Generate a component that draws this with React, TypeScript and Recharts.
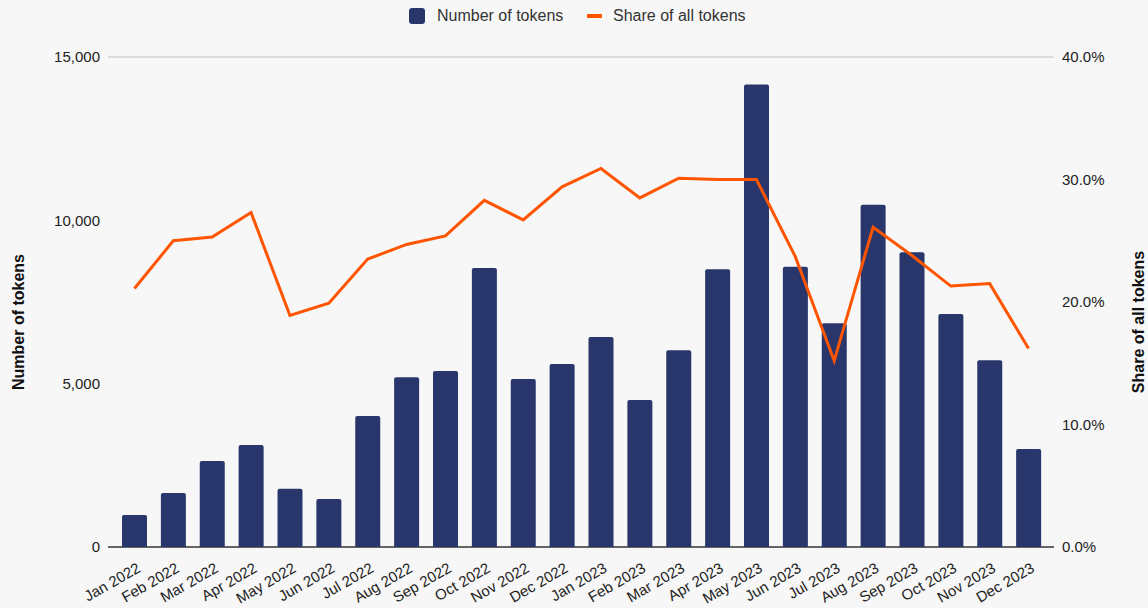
import React from 'react';
import {
  ComposedChart,
  Bar,
  Line,
  XAxis,
  YAxis,
  CartesianGrid,
  Label,
} from 'recharts';

// Monthly token counts and their share of all tokens, Jan 2022 – Dec 2023
const months = [
  'Jan 2022', 'Feb 2022', 'Mar 2022', 'Apr 2022', 'May 2022', 'Jun 2022',
  'Jul 2022', 'Aug 2022', 'Sep 2022', 'Oct 2022', 'Nov 2022', 'Dec 2022',
  'Jan 2023', 'Feb 2023', 'Mar 2023', 'Apr 2023', 'May 2023', 'Jun 2023',
  'Jul 2023', 'Aug 2023', 'Sep 2023', 'Oct 2023', 'Nov 2023', 'Dec 2023',
];

const tokenCounts = [
  980, 1650, 2630, 3120, 1780, 1470,
  4010, 5200, 5390, 8540, 5140, 5600,
  6430, 4500, 6020, 8500, 14160, 8580,
  6850, 10480, 9020, 7130, 5720, 3000,
];

const tokenShare = [
  21.1, 25.0, 25.3, 27.3, 18.9, 19.9,
  23.5, 24.7, 25.4, 28.3, 26.7, 29.4,
  30.9, 28.5, 30.1, 30.0, 30.0, 23.7,
  15.2, 26.1, 23.8, 21.3, 21.5, 16.2,
];

const leftTicks = [0, 5000, 10000, 15000];
const rightTicks = [0, 10, 20, 30, 40];

const data = months.map((month, i) => ({
  month,
  tokens: tokenCounts[i],
  share: tokenShare[i],
}));

const NAVY = '#28366b';
const ORANGE = '#ff5500';
const FONT = '"Liberation Sans", Arial, Helvetica, sans-serif';
const W = 1148;
const H = 608;
const PLOT_BOTTOM = 547;

const MonthTick = (props: any) => {
  const { x, y, payload } = props;
  return (
    <g transform={`translate(${x + 7},${y + 16})`}>
      <text
        textAnchor="end"
        transform="rotate(-30)"
        fontSize={15}
        fill="#222"
        fontFamily={FONT}
      >
        {payload.value}
      </text>
    </g>
  );
};

const GridLine = (props: any) => {
  const { x1, y1, x2, y2 } = props;
  const isBase = Math.abs(y1 - PLOT_BOTTOM) < 1.5;
  return (
    <line
      x1={x1}
      y1={y1}
      x2={x2}
      y2={y2}
      stroke={isBase ? '#333' : '#d2d2d2'}
      strokeWidth={1.5}
    />
  );
};

const AxisTitle = ({ viewBox, text, side }: any) => {
  const vb = viewBox || { x: 0, y: 0, width: 0, height: 0 };
  const cx = side === 'left' ? vb.x + 18 : vb.x + vb.width - 10;
  const cy = vb.y + vb.height / 2 + 20;
  return (
    <text
      x={cx}
      y={cy}
      transform={`rotate(-90, ${cx}, ${cy})`}
      textAnchor="middle"
      dominantBaseline="central"
      fontSize={16}
      fontWeight="bold"
      fill="#111"
      fontFamily={FONT}
    >
      {text}
    </text>
  );
};

const LegendBar = () => (
  <div style={{ position: 'absolute', left: 0, top: 0, width: W, height: 32, fontFamily: FONT, fontSize: 16, color: '#333' }}>
    <div style={{ position: 'absolute', left: 409, top: 8, width: 16, height: 16, borderRadius: 3, background: NAVY }} />
    <div style={{ position: 'absolute', left: 437, top: 6, lineHeight: '20px', whiteSpace: 'nowrap' }}>Number of tokens</div>
    <div style={{ position: 'absolute', left: 587, top: 14, width: 15, height: 4, background: ORANGE }} />
    <div style={{ position: 'absolute', left: 613, top: 6, lineHeight: '20px', whiteSpace: 'nowrap' }}>Share of all tokens</div>
  </div>
);

export default function App() {
  return (
    <div style={{ position: 'absolute', left: 0, top: 0, width: W, height: H, background: '#f7f7f7', overflow: 'hidden' }}>
      <ComposedChart
        width={W}
        height={H}
        data={data}
        margin={{ top: 57, right: 0, left: 0, bottom: 0 }}
        barSize={25}
      >
        <CartesianGrid vertical={false} horizontal={GridLine} />
        <XAxis
          dataKey="month"
          height={61}
          interval={0}
          axisLine={false}
          tickLine={false}
          padding={{ left: 7, right: 6 }}
          tick={<MonthTick />}
        />
        <YAxis
          yAxisId="left"
          width={108}
          domain={[0, 15000]}
          ticks={leftTicks}
          axisLine={false}
          tickLine={false}
          tickFormatter={(v: number) => v.toLocaleString('en-US')}
          tick={{ fontSize: 15, fill: '#222', fontFamily: FONT }}
        >
          <Label content={(p: any) => <AxisTitle viewBox={p.viewBox} text="Number of tokens" side="left" />} />
        </YAxis>
        <YAxis
          yAxisId="right"
          orientation="right"
          width={94}
          domain={[0, 40]}
          ticks={rightTicks}
          axisLine={false}
          tickLine={false}
          tickFormatter={(v: number) => `${v.toFixed(1)}%`}
          tick={{ fontSize: 15, fill: '#222', fontFamily: FONT }}
        >
          <Label content={(p: any) => <AxisTitle viewBox={p.viewBox} text="Share of all tokens" side="right" />} />
        </YAxis>
        <Bar
          yAxisId="left"
          dataKey="tokens"
          name="Number of tokens"
          fill={NAVY}
          radius={[2, 2, 0, 0]}
          isAnimationActive={false}
        />
        <Line
          yAxisId="right"
          dataKey="share"
          name="Share of all tokens"
          stroke={ORANGE}
          strokeWidth={3}
          dot={false}
          activeDot={false}
          strokeLinejoin="miter"
          isAnimationActive={false}
        />
      </ComposedChart>
      <LegendBar />
    </div>
  );
}
